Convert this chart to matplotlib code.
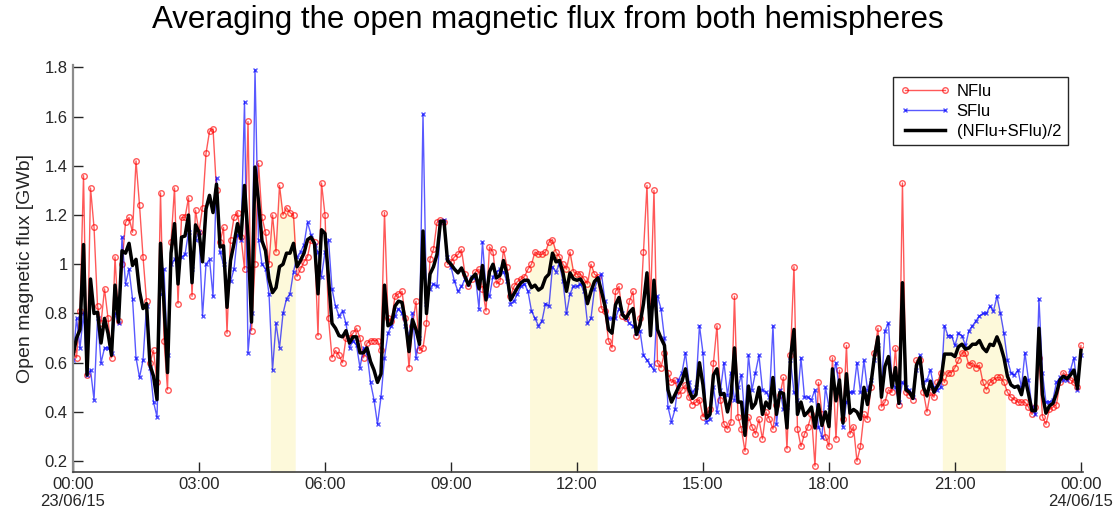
import matplotlib.pyplot as plt
import numpy as np

# open magnetic flux [GWb], one value every 5 min, 23/06/15 00:00 -> 24/06/15 00:00
nflu = [
    0.65, 0.62, 0.81, 1.36, 0.55, 1.31, 1.15, 0.83, 0.76, 0.90, 0.78, 0.62,
    1.03, 0.77, 1.00, 1.17, 1.19, 1.13, 1.42, 1.24, 1.03, 0.85, 0.60, 0.65,
    0.52, 1.29, 0.69, 0.49, 1.09, 1.31, 0.84, 1.19, 1.19, 1.27, 0.87, 1.22,
    1.13, 1.23, 1.45, 1.54, 1.55, 1.30, 1.09, 1.15, 0.72, 1.10, 1.19, 1.21,
    1.11, 0.98, 1.58, 0.73, 1.00, 1.41, 1.19, 1.13, 1.00, 1.20, 1.05, 1.32,
    1.20, 1.23, 1.21, 1.20, 0.95, 0.98, 1.01, 1.03, 1.10, 1.09, 0.71, 1.33,
    1.20, 0.78, 0.62, 0.65, 0.63, 0.60, 0.70, 0.70, 0.72, 0.74, 0.70, 0.62,
    0.68, 0.69, 0.69, 0.69, 0.65, 1.21, 0.78, 0.77, 0.87, 0.88, 0.89, 0.78,
    0.58, 0.75, 0.85, 0.65, 0.66, 0.76, 1.02, 1.06, 1.17, 1.18, 1.17, 1.00,
    1.01, 1.03, 1.04, 1.06, 0.96, 0.91, 0.94, 0.97, 0.98, 0.90, 0.81, 1.07,
    1.05, 0.92, 0.93, 1.06, 0.99, 0.87, 0.91, 0.93, 0.94, 0.95, 0.98, 1.00,
    1.05, 1.04, 1.04, 1.05, 1.09, 1.10, 1.05, 1.03, 1.00, 0.98, 1.05, 0.97,
    0.96, 0.96, 0.94, 0.92, 1.00, 0.96, 0.95, 0.82, 0.81, 0.69, 0.66, 0.89,
    0.91, 0.79, 0.78, 0.85, 0.89, 0.71, 0.78, 1.05, 1.32, 0.83, 1.30, 0.60,
    0.58, 0.64, 0.56, 0.52, 0.53, 0.47, 0.49, 0.51, 0.46, 0.43, 0.44, 0.45,
    0.38, 0.39, 0.41, 0.60, 0.75, 0.45, 0.35, 0.33, 0.36, 0.87, 0.38, 0.33,
    0.24, 0.38, 0.34, 0.31, 0.37, 0.29, 0.40, 0.37, 0.33, 0.43, 0.47, 0.54,
    0.25, 0.63, 0.99, 0.33, 0.26, 0.31, 0.34, 0.39, 0.18, 0.52, 0.39, 0.30,
    0.26, 0.62, 0.29, 0.57, 0.37, 0.67, 0.31, 0.34, 0.20, 0.26, 0.39, 0.37,
    0.50, 0.64, 0.74, 0.42, 0.44, 0.49, 0.48, 0.66, 0.43, 1.33, 0.48, 0.47,
    0.45, 0.61, 0.61, 0.48, 0.40, 0.48, 0.46, 0.52, 0.56, 0.52, 0.56, 0.56,
    0.58, 0.61, 0.64, 0.64, 0.59, 0.60, 0.58, 0.59, 0.52, 0.49, 0.52, 0.53,
    0.54, 0.54, 0.52, 0.48, 0.46, 0.45, 0.44, 0.44, 0.44, 0.42, 0.39, 0.42,
    0.62, 0.38, 0.35, 0.41, 0.42, 0.43, 0.52, 0.56, 0.54, 0.53, 0.52, 0.50, 0.67,
]
sflu = [
    0.61, 0.78, 0.66, 0.80, 0.55, 0.57, 0.45, 0.78, 0.60, 0.66, 0.66, 0.64,
    0.80, 0.76, 1.11, 0.92, 0.98, 0.86, 0.62, 0.54, 0.61, 0.83, 0.58, 0.44,
    0.38, 0.88, 0.98, 0.63, 1.00, 1.02, 1.00, 1.03, 1.04, 1.13, 0.98, 1.10,
    1.13, 0.79, 1.00, 1.02, 0.87, 1.35, 1.05, 1.00, 0.93, 0.93, 0.98, 1.12,
    1.10, 1.66, 0.64, 0.80, 1.79, 1.10, 1.00, 0.98, 0.88, 0.57, 0.76, 0.66,
    0.80, 0.86, 0.88, 0.97, 1.03, 1.05, 1.08, 1.17, 1.12, 1.08, 1.05, 0.95,
    1.05, 1.10, 0.90, 0.83, 0.79, 0.81, 0.76, 0.66, 0.69, 0.67, 0.58, 0.66,
    0.64, 0.52, 0.45, 0.35, 0.46, 0.62, 0.72, 0.75, 0.79, 0.82, 0.80, 0.75,
    0.71, 0.80, 0.62, 0.70, 1.61, 0.84, 0.90, 0.92, 0.91, 1.17, 1.18, 1.03,
    0.99, 0.93, 0.89, 0.91, 0.94, 0.92, 0.95, 0.95, 0.82, 1.09, 0.90, 0.87,
    0.95, 0.97, 0.98, 0.97, 0.93, 0.84, 0.85, 0.88, 0.91, 0.92, 0.89, 0.81,
    0.78, 0.75, 0.77, 0.84, 0.83, 0.99, 0.97, 1.00, 0.93, 0.80, 0.88, 0.91,
    0.91, 0.92, 0.89, 0.76, 0.78, 0.90, 0.94, 0.96, 0.85, 0.78, 0.78, 0.78,
    0.82, 0.80, 0.78, 0.76, 0.75, 0.72, 0.73, 0.63, 0.61, 0.59, 0.57, 0.87,
    0.82, 0.70, 0.42, 0.36, 0.41, 0.53, 0.56, 0.64, 0.52, 0.48, 0.50, 0.75,
    0.64, 0.36, 0.37, 0.50, 0.40, 0.49, 0.60, 0.47, 0.56, 0.45, 0.50, 0.55,
    0.37, 0.63, 0.49, 0.56, 0.63, 0.49, 0.48, 0.46, 0.75, 0.35, 0.49, 0.41,
    0.42, 0.61, 0.48, 0.45, 0.62, 0.46, 0.46, 0.45, 0.49, 0.34, 0.30, 0.50,
    0.42, 0.53, 0.60, 0.49, 0.34, 0.44, 0.48, 0.48, 0.60, 0.48, 0.61, 0.49,
    0.53, 0.61, 0.67, 0.50, 0.73, 0.76, 0.52, 0.50, 0.44, 0.52, 0.50, 0.49,
    0.46, 0.57, 0.63, 0.52, 0.53, 0.57, 0.50, 0.49, 0.50, 0.75, 0.71, 0.71,
    0.67, 0.72, 0.71, 0.67, 0.73, 0.75, 0.77, 0.79, 0.80, 0.80, 0.83, 0.81,
    0.87, 0.80, 0.72, 0.61, 0.56, 0.55, 0.57, 0.50, 0.64, 0.53, 0.42, 0.39,
    0.86, 0.56, 0.44, 0.44, 0.45, 0.52, 0.54, 0.53, 0.53, 0.57, 0.62, 0.49, 0.63,
]
# highlighted intervals [hours]
shaded = [(4.70, 5.29), (10.87, 12.48), (20.70, 22.20)]
xtick_hours = [0, 3, 6, 9, 12, 15, 18, 21, 24]
xtick_labels = ['00:00\n23/06/15', '03:00', '06:00', '09:00', '12:00',
                '15:00', '18:00', '21:00', '00:00\n24/06/15']
ytick_vals = [0.2, 0.4, 0.6, 0.8, 1.0, 1.2, 1.4, 1.6, 1.8]
ytick_labels = ['0.2', '0.4', '0.6', '0.8', '1', '1.2', '1.4', '1.6', '1.8']

plt.rcParams['font.family'] = ['Liberation Sans', 'DejaVu Sans']

nflu = np.array(nflu)
sflu = np.array(sflu)
hours = np.arange(len(nflu)) * 5 / 60.
avg = (nflu + sflu) / 2

fig = plt.figure(figsize=(11.17, 5.15), dpi=100)
ax = fig.add_axes([0.065, 0.084, 0.9046, 0.79])

top = np.maximum(nflu, sflu)
for a, b in shaded:
    tt = np.linspace(a, b, 200)
    ax.fill_between(tt, 0, np.interp(tt, hours, top), color='#fdf9da', lw=0, zorder=0)

ax.plot(hours, nflu, '-o', color='red', alpha=0.65, lw=1.0, ms=4, mfc='none', mew=1.0, label='NFlu')
ax.plot(hours, sflu, '-x', color='blue', alpha=0.65, lw=1.0, ms=3.5, mew=1.0, label='SFlu')
ax.plot(hours, avg, '-', color='black', lw=2.5, label='(NFlu+SFlu)/2')

ax.set_xlim(-0.01, 24.05)
ax.set_ylim(0.157, 1.81)
ax.set_xticks(xtick_hours)
ax.set_xticklabels(xtick_labels)
ax.set_yticks(ytick_vals)
ax.set_yticklabels(ytick_labels)
ax.tick_params(direction='in', length=7, width=1, colors='#262626', labelsize=12)
ax.spines['top'].set_visible(False)
ax.spines['right'].set_visible(False)
ax.spines['left'].set_color('#8c8c8c')
ax.spines['left'].set_linewidth(1.6)
ax.spines['bottom'].set_color('#404040')
ax.spines['bottom'].set_linewidth(1.2)

ax.set_ylabel('Open magnetic flux [GWb]', fontsize=14, color='#262626', labelpad=8)
fig.suptitle('Averaging the open magnetic flux from both hemispheres', fontsize=22.5,
             x=0.49, y=0.99)

leg = ax.legend(loc='upper right', bbox_to_anchor=(0.985, 0.97), fontsize=12,
                handlelength=3.0, numpoints=2, fancybox=False, framealpha=1,
                borderpad=0.4, labelspacing=0.3, handletextpad=0.4, borderaxespad=0)
leg.get_frame().set_edgecolor('#262626')
leg.get_frame().set_linewidth(1.0)

fig.savefig('out.png', dpi=100)
